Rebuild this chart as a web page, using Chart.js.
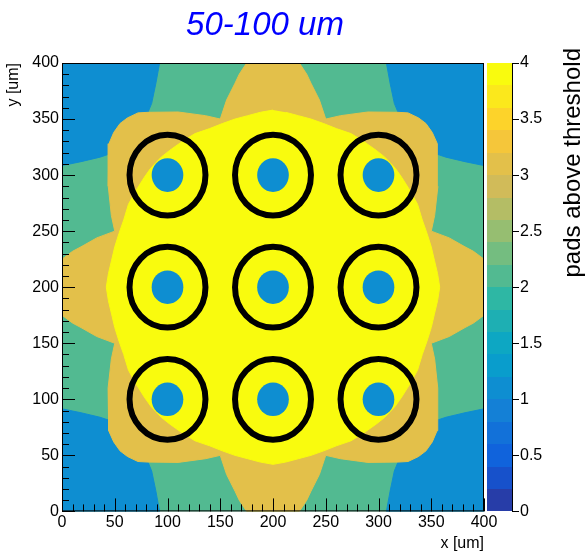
<!DOCTYPE html>
<html lang="en">
<head>
  <meta charset="UTF-8" />
  <title>Pads above threshold, 50-100 um</title>
  <script src="https://cdn.jsdelivr.net/npm/chart.js"></script>
  <style>
    body {
      margin: 0;
      background: #ffffff;
    }

    canvas {
      display: block;
    }
  </style>
</head>
<body>

  <canvas id="padMap" width="587" height="557"></canvas>

  <script>
    // Pad centres (um)
    const padX = [100, 200, 300, 100, 200, 300, 100, 200, 300];
    const padY = [300, 300, 300, 200, 200, 200, 100, 100, 100];
    const dotRadius = 15;   // value-1 spot around every pad centre (um)
    const ringRadius = 36;  // pad ring (um)

    // z range and contour bands of the colour scale
    const zMin = 0;
    const zMax = 4;
    const nContours = 20;
    const zTickStep = 0.5;

    // levels of the map ("pads above threshold")
    const backgroundLevel = 2;
    const cornerLevel = 1;
    const tanLevel = 3;
    const coreLevel = 4;
    const dotLevel = 1;

    // value-1 corners, outlines in um
    const cornerTopLeft = [[0, 400], [92.5, 400], [89, 382], [85, 364], [81.5, 356], [72, 355.5], [62, 351], [55, 346], [49, 338], [44.5, 328], [44, 318.5], [36, 316], [18, 312], [0, 308.5]];
    const cornerTopRight = [[400, 400], [307.5, 400], [311, 382], [315, 364], [318.5, 356], [328, 355.5], [338, 351], [345, 346], [351, 338], [355.5, 328], [356, 318.5], [364, 316], [382, 312], [400, 308.5]];
    const cornerBottomLeft = [[0, 0], [92.5, 0], [89, 18], [85, 36], [81.5, 44], [72, 44.5], [62, 49], [55, 54], [49, 62], [44.5, 72], [44, 81.5], [36, 84], [18, 88], [0, 91.5]];
    const cornerBottomRight = [[400, 0], [307.5, 0], [311, 18], [315, 36], [318.5, 44], [328, 44.5], [338, 49], [345, 54], [351, 62], [355.5, 72], [356, 81.5], [364, 84], [382, 88], [400, 91.5]];

    // outline of the region with 3 or more pads
    const tanEdge = [
      [175, 400], [168, 390], [164, 382], [156, 367], [150, 350], [136, 353], [110, 356.3], [81.5, 356], [72, 355.5], [62, 351], [55, 346], [49, 338], [44.5, 328], [44, 318.5], [43.7, 290], [46.8, 264], [50, 250], [33, 244], [18, 236], [10, 232], [0, 225],
      [0, 175], [10, 168], [18, 164], [33, 156], [50, 150], [46.8, 136], [43.7, 110], [44, 81.5], [44.5, 72], [49, 62], [55, 54], [62, 49], [72, 44.5], [81.5, 44], [110, 43.7], [136, 47], [150, 50], [156, 33], [164, 18], [168, 10], [175, 0],
      [225, 0], [232, 10], [236, 18], [244, 33], [250, 50], [264, 47], [290, 43.7], [318.5, 44], [328, 44.5], [338, 49], [345, 54], [351, 62], [355.5, 72], [356, 81.5], [356.3, 110], [353.2, 136], [350, 150], [367, 156], [382, 164], [390, 168], [400, 175],
      [400, 225], [390, 232], [382, 236], [367, 244], [350, 250], [353.2, 264], [356.3, 290], [356, 318.5], [355.5, 328], [351, 338], [345, 346], [338, 351], [328, 355.5], [318.5, 356], [290, 356.3], [264, 353], [250, 350], [244, 367], [236, 382], [232, 390], [225, 400]
    ];

    // outline of the 4-pad core
    const coreEdge = [
      [200, 358], [188, 356], [176, 353], [164, 350], [152, 346], [140, 341.5], [126, 337], [114, 330], [102, 322], [94, 316], [89, 311], [84, 306], [78, 298], [70, 286], [63, 274], [58.5, 260], [54, 248], [50, 236], [47, 224], [44, 212], [42, 200],
      [44, 188], [47, 176], [50, 164], [54, 152], [58.5, 140], [63, 126], [70, 114], [78, 102], [84, 94], [89, 89], [94, 84], [102, 78], [114, 70], [126, 63], [140, 58.5], [152, 54], [164, 50], [176, 47], [188, 44], [200, 42],
      [212, 44], [224, 47], [236, 50], [248, 54], [260, 58.5], [274, 63], [286, 70], [298, 78], [306, 84], [311, 89], [316, 94], [322, 102], [330, 114], [337, 126], [341.5, 140], [346, 152], [350, 164], [353, 176], [356, 188], [358, 200],
      [356, 212], [353, 224], [350, 236], [346, 248], [341.5, 260], [337, 274], [330, 286], [322, 298], [316, 306], [311, 311], [306, 316], [298, 322], [286, 330], [274, 337], [260, 341.5], [248, 346], [236, 350], [224, 353], [212, 356]
    ];

    // kBird palette stops
    const birdStops = [0.0, 0.125, 0.25, 0.375, 0.5, 0.625, 0.75, 0.875, 1.0];
    const birdRed = [0.2082, 0.0592, 0.0780, 0.0232, 0.1802, 0.5301, 0.8186, 0.9956, 0.9764];
    const birdGreen = [0.1664, 0.3599, 0.5041, 0.6419, 0.7178, 0.7492, 0.7328, 0.7862, 0.9832];
    const birdBlue = [0.5293, 0.8684, 0.8385, 0.7914, 0.6425, 0.4662, 0.3499, 0.1968, 0.0539];

    function birdColor(t) {
      let i = 0;
      while (i < birdStops.length - 2 && t > birdStops[i + 1]) i++;
      const f = (t - birdStops[i]) / (birdStops[i + 1] - birdStops[i]);
      const c = arr => Math.round(255 * (arr[i] + f * (arr[i + 1] - arr[i])));
      return `rgb(${c(birdRed)}, ${c(birdGreen)}, ${c(birdBlue)})`;
    }

    // colour of contour band k, picked out of 255 palette colours
    function bandColor(k) {
      const idx = Math.floor((k + 0.99) * 255 / nContours);
      return birdColor(Math.min(idx, 254) / 254);
    }

    function levelColor(v) {
      const k = Math.min(nContours - 1, Math.floor((v - zMin) / (zMax - zMin) * nContours));
      return bandColor(k);
    }

    function region(points, level, order) {
      const color = levelColor(level);
      return {
        data: points.map(([x, y]) => ({ x, y })),
        showLine: true,
        fill: 'shape',
        backgroundColor: color,
        borderColor: color,
        borderWidth: 1,
        pointRadius: 0,
        order: order
      };
    }

    const labelFont = { family: "'Liberation Sans', Arial, sans-serif", size: 16 };

    // background level, spots, rings, frame, ticks, colour bar and titles
    const padMapPlugin = {
      id: 'padMap',
      beforeDatasetsDraw(chart) {
        const { ctx, chartArea: a } = chart;
        ctx.save();
        ctx.fillStyle = levelColor(backgroundLevel);
        ctx.fillRect(a.left, a.top, a.right - a.left, a.bottom - a.top);
        ctx.restore();
      },
      afterDatasetsDraw(chart) {
        const { ctx, chartArea: a, scales: { x, y, z } } = chart;

        ctx.save();
        ctx.beginPath();
        ctx.rect(a.left, a.top, a.right - a.left, a.bottom - a.top);
        ctx.clip();

        padX.forEach((vx, i) => {
          const cx = x.getPixelForValue(vx);
          const cy = y.getPixelForValue(padY[i]);
          const rx = x.getPixelForValue(vx + dotRadius) - cx;
          const ry = cy - y.getPixelForValue(padY[i] + dotRadius);
          ctx.fillStyle = levelColor(dotLevel);
          ctx.beginPath();
          ctx.ellipse(cx, cy, rx, ry, 0, 0, 2 * Math.PI);
          ctx.fill();
        });

        ctx.strokeStyle = '#000000';
        ctx.lineWidth = 6;
        padX.forEach((vx, i) => {
          const cx = x.getPixelForValue(vx);
          const cy = y.getPixelForValue(padY[i]);
          const rx = x.getPixelForValue(vx + ringRadius) - cx;
          const ry = cy - y.getPixelForValue(padY[i] + ringRadius);
          ctx.beginPath();
          ctx.ellipse(cx, cy, rx, ry, 0, 0, 2 * Math.PI);
          ctx.stroke();
        });
        ctx.restore();

        // frame
        ctx.save();
        ctx.strokeStyle = '#000000';
        ctx.lineWidth = 1;
        ctx.strokeRect(a.left + 0.5, a.top + 0.5, a.right - a.left - 1, a.bottom - a.top - 1);

        // inward ticks, major every 50, minor every 10
        ctx.beginPath();
        for (let v = x.min; v <= x.max; v += 10) {
          const p = Math.round(x.getPixelForValue(v)) + 0.5;
          const len = v % 50 === 0 ? 13 : 7;
          ctx.moveTo(p, a.bottom);
          ctx.lineTo(p, a.bottom - len);
        }
        for (let v = y.min; v <= y.max; v += 10) {
          const p = Math.round(y.getPixelForValue(v)) + 0.5;
          const len = v % 50 === 0 ? 13 : 7;
          ctx.moveTo(a.left, p);
          ctx.lineTo(a.left + len, p);
        }
        ctx.stroke();

        // colour bar
        const barLeft = a.right + 3;
        const barRight = a.right + 28;
        for (let k = 0; k < nContours; k++) {
          const v0 = zMin + k * (zMax - zMin) / nContours;
          const v1 = zMin + (k + 1) * (zMax - zMin) / nContours;
          const y0 = Math.round(z.getPixelForValue(v0));
          const y1 = Math.round(z.getPixelForValue(v1));
          ctx.fillStyle = bandColor(k);
          ctx.fillRect(barLeft, y1, barRight - barLeft, y0 - y1);
        }
        ctx.beginPath();
        ctx.moveTo(barRight + 0.5, a.top);
        ctx.lineTo(barRight + 0.5, a.bottom);
        for (let v = zMin; v <= zMax; v += zTickStep) {
          const p = Math.round(z.getPixelForValue(v)) + 0.5;
          ctx.moveTo(barRight, p);
          ctx.lineTo(barRight + 7, p);
        }
        ctx.stroke();

        // colour bar title, reads upwards and ends near the top
        ctx.fillStyle = '#000000';
        ctx.font = "24px 'Liberation Sans', Arial, sans-serif";
        ctx.translate(573, a.top - 15);
        ctx.rotate(-Math.PI / 2);
        ctx.textAlign = 'right';
        ctx.textBaseline = 'middle';
        ctx.fillText('pads above threshold', 0, 0);
        ctx.restore();

        // main title
        ctx.save();
        ctx.fillStyle = '#0000ff';
        ctx.font = "italic 33px 'Liberation Sans', Arial, sans-serif";
        ctx.textAlign = 'center';
        ctx.textBaseline = 'alphabetic';
        ctx.fillText('50-100 um', 265, 35);
        ctx.restore();
      }
    };

    new Chart(document.getElementById('padMap'), {
      type: 'scatter',
      data: {
        datasets: [
          region(cornerTopLeft, cornerLevel, 3),
          region(cornerTopRight, cornerLevel, 3),
          region(cornerBottomLeft, cornerLevel, 3),
          region(cornerBottomRight, cornerLevel, 3),
          region(tanEdge, tanLevel, 2),
          region(coreEdge, coreLevel, 1)
        ]
      },
      options: {
        responsive: false,
        animation: false,
        events: [],
        layout: { padding: { top: 63, left: 0, right: 0, bottom: 0 } },
        plugins: {
          legend: { display: false },
          tooltip: { enabled: false }
        },
        scales: {
          x: {
            type: 'linear',
            position: 'bottom',
            min: 0,
            max: 400,
            grid: { display: false, drawTicks: false },
            border: { display: false },
            ticks: { stepSize: 50, padding: 2, color: '#000000', font: labelFont, autoSkip: false, maxRotation: 0 },
            title: { display: true, text: 'x [um]', align: 'end', color: '#000000', font: labelFont, padding: { top: 0, bottom: 2 } },
            afterFit: s => { s.height = 44; }
          },
          y: {
            type: 'linear',
            position: 'left',
            min: 0,
            max: 400,
            grid: { display: false, drawTicks: false },
            border: { display: false },
            ticks: { stepSize: 50, padding: 3, color: '#000000', font: labelFont, autoSkip: false },
            title: { display: true, text: 'y [um]', align: 'end', color: '#000000', font: labelFont, padding: { top: 4, bottom: 0 } },
            afterFit: s => { s.width = 62; }
          },
          z: {
            type: 'linear',
            axis: 'y',
            position: 'right',
            min: zMin,
            max: zMax,
            grid: { display: false, drawTicks: false },
            border: { display: false },
            ticks: { stepSize: zTickStep, padding: 36, color: '#000000', font: labelFont, autoSkip: false, callback: v => String(v) },
            afterFit: s => { s.width = 103; }
          }
        }
      },
      plugins: [padMapPlugin]
    });
  </script>

</body>
</html>
